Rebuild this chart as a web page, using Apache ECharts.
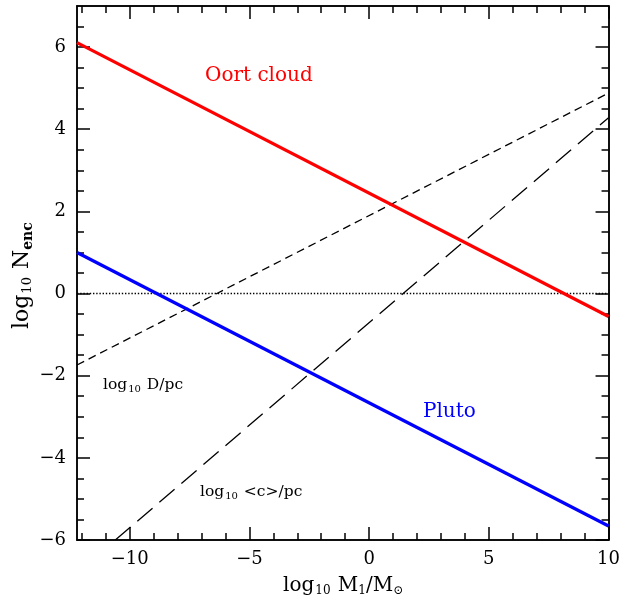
<!DOCTYPE html>
<html>
<head>
<meta charset="utf-8">
<script src="https://cdn.jsdelivr.net/npm/echarts@6/dist/echarts.min.js"></script>
<style>
  html, body { margin: 0; padding: 0; background: #fff; }
  #chart { width: 623px; height: 601px; }
</style>
</head>
<body>
<div id="chart"></div>
<script>
// Encounter count vs. perturber mass (log-log)
const xRange = [-12.2, 10];
const yRange = [-6, 7];

const xMajor = [-10, -5, 0, 5, 10];
const xMinor = [-12, -11, -9, -8, -7, -6, -4, -3, -2, -1, 1, 2, 3, 4, 6, 7, 8, 9];
const yMajor = [-6, -4, -2, 0, 2, 4, 6];
const yMinor = [-5.5, -5, -4.5, -3.5, -3, -2.5, -1.5, -1, -0.5, 0.5, 1, 1.5, 2.5, 3, 3.5, 4.5, 5, 5.5, 6.5];

// line endpoints [log10 M1, value]
const oortCloud = [[-12.2, 6.11], [10, -0.56]];
const pluto = [[-12.2, 1.0], [10, -5.66]];
const logD = [[-12.2, -1.74], [10, 4.88]];
const logC = [[-10.6, -6.0], [10, 4.28]];
const zeroLine = [[-12.2, 0], [10, 0]];

const FONT = '"DejaVu Serif", "Liberation Serif", serif';
const fmt = v => (v < 0 ? '\u2212' + Math.abs(v) : String(v));

function xAx(pos, ticks, len, labels) {
  return {
    type: 'value', position: pos, min: xRange[0], max: xRange[1],
    axisLine: { show: true, onZero: false, lineStyle: { color: '#000', width: 1.5 } },
    axisTick: { show: true, inside: true, length: len, customValues: ticks, lineStyle: { color: '#000', width: 1.5 } },
    axisLabel: labels ? { show: true, customValues: ticks, formatter: fmt, color: '#000', fontFamily: FONT, fontSize: 18, margin: 10 } : { show: false },
    splitLine: { show: false }
  };
}
function yAx(pos, ticks, len, labels) {
  return {
    type: 'value', position: pos, min: yRange[0], max: yRange[1],
    axisLine: { show: true, onZero: false, lineStyle: { color: '#000', width: 1.5 } },
    axisTick: { show: true, inside: true, length: len, customValues: ticks, lineStyle: { color: '#000', width: 1.5 } },
    axisLabel: labels ? { show: true, customValues: ticks, formatter: fmt, color: '#000', fontFamily: FONT, fontSize: 18, margin: 11 } : { show: false },
    splitLine: { show: false }
  };
}

function line(data, color, width, type) {
  return {
    type: 'line', data: data, xAxisIndex: 0, yAxisIndex: 0,
    showSymbol: false, silent: true, animation: false,
    lineStyle: { color: color, width: width, type: type }
  };
}

const smallRich = {
  a: { fontFamily: FONT, fontSize: 15.5, fill: '#000' },
  s: { fontFamily: FONT, fontSize: 10, fill: '#000', padding: [8, 1, 0, 1] }
};

const chart = echarts.init(document.getElementById('chart'), null, { renderer: 'canvas' });
chart.setOption({
  animation: false,
  backgroundColor: '#fff',
  grid: { left: 77, top: 6, right: 13, bottom: 61 },
  xAxis: [
    xAx('bottom', xMajor, 13, true),
    xAx('bottom', xMinor, 7, false),
    xAx('top', xMajor, 13, false),
    xAx('top', xMinor, 7, false)
  ],
  yAxis: [
    yAx('left', yMajor, 13, true),
    yAx('left', yMinor, 7, false),
    yAx('right', yMajor, 13, false),
    yAx('right', yMinor, 7, false)
  ],
  series: [
    line(zeroLine, '#000', 1.4, [1.4, 1.8]),
    line(logD, '#000', 1.3, [8, 5]),
    line(logC, '#000', 1.3, [20, 9]),
    line(oortCloud, '#ff0000', 3.2, 'solid'),
    line(pluto, '#0000ff', 3.2, 'solid')
  ],
  graphic: [
    { type: 'text', left: 205, top: 66, style: { text: 'Oort cloud', fill: '#ff0000', font: '20px ' + FONT } },
    { type: 'text', left: 423, top: 402, style: { text: 'Pluto', fill: '#0000ff', font: '20px ' + FONT } },
    { type: 'text', left: 103, top: 377, style: { text: '{a|log}{s|10}{a| D/pc}', rich: smallRich } },
    { type: 'text', left: 200, top: 484, style: { text: '{a|log}{s|10}{a| <c>/pc}', rich: smallRich } },
    { type: 'text', left: 283, top: 576, style: {
        text: '{a|log}{s|10}{a| M}{t|1}{a|/M}{t|\u2299}',
        rich: { a: { fontFamily: FONT, fontSize: 20, fill: '#000' }, s: { fontFamily: FONT, fontSize: 12, fill: '#000', padding: [10, 1, 0, 1] }, t: { fontFamily: FONT, fontSize: 12, fill: '#000', padding: [10, 0, 0, 0] } } } },
    { type: 'text', x: 10, y: 329, rotation: Math.PI / 2, style: {
        text: '{a|log}{s|10}{a| N}{t|enc}',
        rich: { a: { fontFamily: FONT, fontSize: 22, fill: '#000' }, s: { fontFamily: FONT, fontSize: 13, fill: '#000', padding: [11, 1, 0, 1] }, t: { fontFamily: FONT, fontSize: 14, fontWeight: 'bold', fill: '#000', padding: [11, 0, 0, 0] } } } }
  ]
});
</script>
</body>
</html>
